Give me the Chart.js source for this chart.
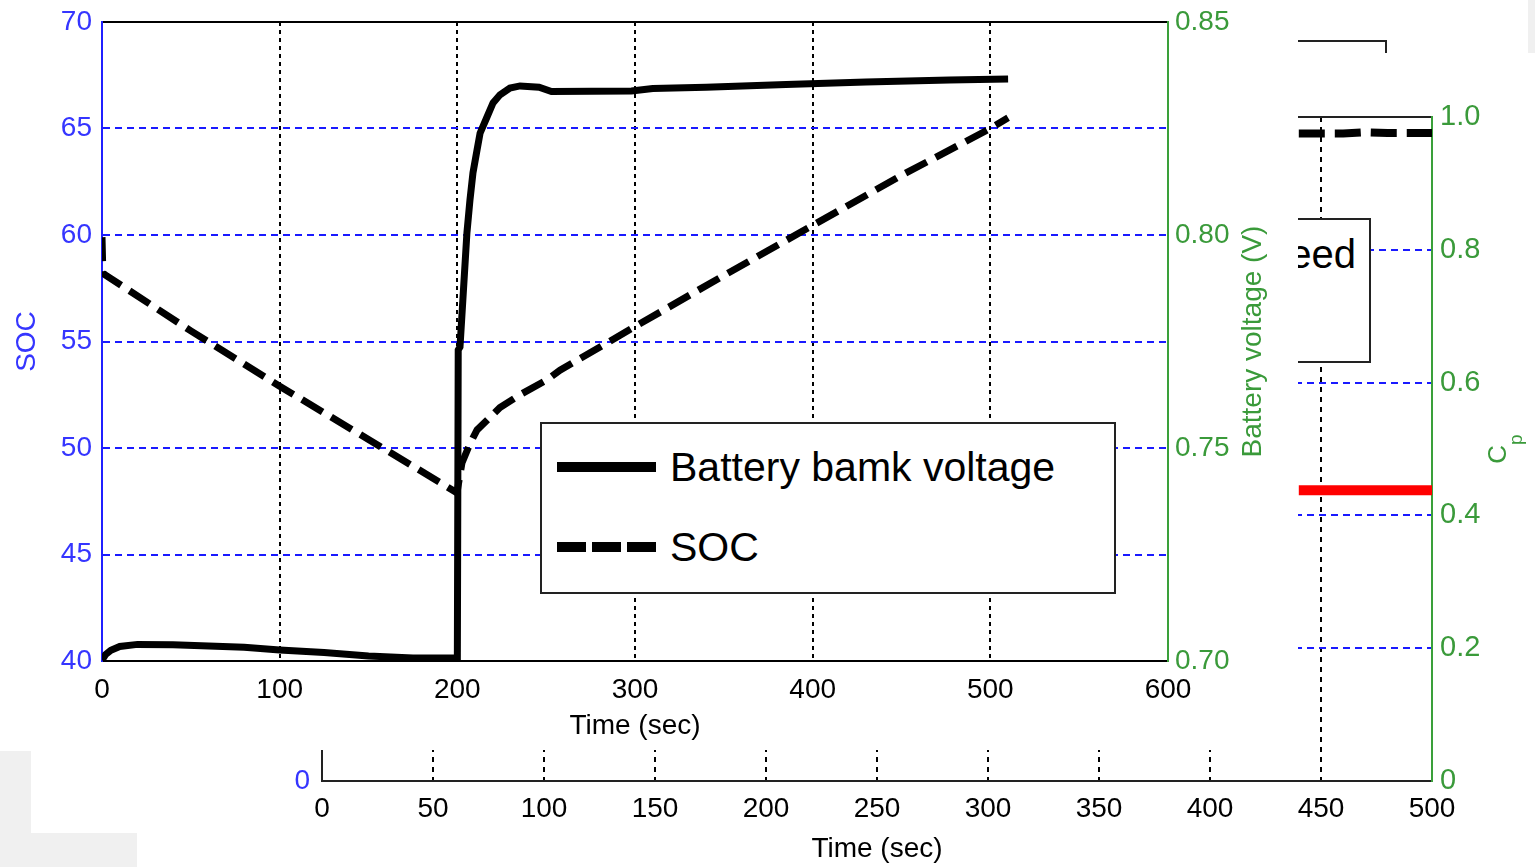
<!DOCTYPE html>
<html>
<head>
<meta charset="utf-8">
<script src="https://cdn.jsdelivr.net/npm/chart.js@4.4.1/dist/chart.umd.min.js"></script>
<style>
html,body{margin:0;padding:0;background:#fff;width:1535px;height:867px;overflow:hidden;font-family:"Liberation Sans",Arial,sans-serif;}
#bgc{position:absolute;left:0;top:0;}
#fg{position:absolute;left:0;top:0;width:1298px;height:750px;background:#fff;z-index:5;}
#fgc{position:absolute;left:0;top:0;}
.legend{position:absolute;background:#fff;border:2px solid #222;box-sizing:border-box;}
.row{position:absolute;left:0;right:0;height:80px;display:flex;align-items:center;}
.row svg{position:absolute;}
.row span{position:absolute;line-height:1;white-space:nowrap;color:#000;}
.grey{position:absolute;background:#f0f0f0;z-index:6;}
#bracket{position:absolute;left:1250px;top:40px;width:137px;height:13px;border-top:2px solid #222;border-right:2px solid #222;box-sizing:border-box;z-index:2;}
</style>
</head>
<body>
<canvas id="bgc" width="1535" height="867"></canvas>
<div id="bracket"></div>
<div id="bgLegend" class="legend" style="left:1000px;top:218px;width:371px;height:145px;z-index:2;"></div>
<div id="fg">
  <canvas id="fgc" width="1298" height="750"></canvas>
  <div id="fgLegend" class="legend" style="left:540px;top:422px;width:576px;height:172px;"></div>
</div>
<div class="grey" style="left:0;top:751px;width:31px;height:82px;"></div>
<div class="grey" style="left:0;top:833px;width:137px;height:34px;"></div>
<div class="grey" style="left:1528px;top:0;width:7px;height:53px;"></div>
<script>
// ---------------- data (foreground chart) ----------------
const voltageTime = [0,2,5,10,20,40,60,80,100,125,150,175,199.5,200,200.5,201.5,205.4,207.1,208.8,211.1,212.8,216.7,220.1,224,229.6,235.3,246,253,298,310,340,385,430,477,510];
const voltageValues = [0.7002,0.7015,0.7025,0.7034,0.7039,0.7038,0.7035,0.7032,0.7026,0.7020,0.7012,0.7007,0.7007,0.7000,0.7730,0.7737,0.8005,0.8082,0.8146,0.8200,0.8239,0.8277,0.8310,0.8329,0.8345,0.8350,0.8347,0.8337,0.8338,0.8344,0.8347,0.8353,0.8359,0.8364,0.8366];
const socTime = [0,0.5,50,100,150,199.8,202.6,207.1,211.1,216.7,224,235.3,250.5,257.8,300,350,400,450,500,510];
const socValues = [59.9,58.2,55.5,52.9,50.4,47.9,49.3,50.2,50.85,51.3,51.9,52.5,53.2,53.65,55.7,58.1,60.45,62.8,65.0,65.5];
const mainLabels = ['Battery bamk voltage','SOC'];
const mainTitles = {x:'Time (sec)', y:'SOC', y1:'Battery voltage (V)'};

// ---------------- data (background chart, visible part) ----------------
const bgTime = [440,450,460,470,480,490,500];
const bgDashedValues = [0.975,0.975,0.975,0.977,0.976,0.976,0.976];
const bgCpValues = [0.438,0.438,0.438,0.438,0.438,0.438,0.438];
const bgLabels = ['Wind speed','Cp'];
const bgTitles = {x:'Time (sec)', y1:'C', y1sub:'p'};

const FONT = '"Liberation Sans", Arial, sans-serif';
const BLUE_TXT = '#3535ff';
const BLUE_GRID = '#1a1aff';
const GREEN_TXT = '#3a9a3a';
const GREEN_LINE = '#3aa03a';
Chart.defaults.font.family = FONT;

const pts = (xs, ys) => xs.map((x,i)=>({x:x, y:ys[i]}));
const noPad = s => { s.paddingTop = 0; s.paddingBottom = 0; };

const vTitle = {
  id:'vTitle',
  afterDraw(chart, args, opts){
    (opts.items||[]).forEach(it=>{
      const s = chart.scales[it.axis];
      const ctx = chart.ctx;
      ctx.save();
      ctx.translate(s.left + it.offset, (s.top+s.bottom)/2);
      ctx.rotate(-Math.PI/2);
      ctx.fillStyle = it.color;
      ctx.textBaseline = 'middle';
      ctx.textAlign = 'left';
      ctx.font = it.size + 'px ' + FONT;
      const w1 = ctx.measureText(it.text).width;
      let w2 = 0;
      if (it.sub){ ctx.font = it.subSize + 'px ' + FONT; w2 = ctx.measureText(it.sub).width; }
      const x0 = -(w1+w2)/2;
      ctx.font = it.size + 'px ' + FONT;
      ctx.fillText(it.text, x0, 0);
      if (it.sub){ ctx.font = it.subSize + 'px ' + FONT; ctx.fillText(it.sub, x0+w1, it.subDy); }
      ctx.restore();
    });
  }
};

// ---------------- background chart ----------------
const bgChart = new Chart(document.getElementById('bgc'), {
  type:'line',
  data:{datasets:[
    {label:bgLabels[0], data:pts(bgTime,bgDashedValues), borderColor:'#000', borderWidth:8, borderDash:[26,10], pointRadius:0, yAxisID:'y1', xAxisID:'x'},
    {label:bgLabels[1], data:pts(bgTime,bgCpValues), borderColor:'#ff0000', borderWidth:10, pointRadius:0, yAxisID:'y1', xAxisID:'x'}
  ]},
  options:{
    responsive:false, animation:false, layout:{padding:0},
    plugins:{legend:{display:false}, tooltip:{enabled:false},
      vTitle:{items:[{axis:'y1', offset:67, text:bgTitles.y1, sub:bgTitles.y1sub, size:26, subSize:19, subDy:18, color:GREEN_TXT}]}},
    scales:{
      x:{type:'linear', position:'bottom', min:0, max:500,
        ticks:{stepSize:50, color:'#000', font:{size:28}, padding:11, maxRotation:0, autoSkip:false},
        grid:{color:c=>(c.tick && c.tick.value>0 && c.tick.value<500)?'#000':'rgba(0,0,0,0)', lineWidth:2, drawTicks:false},
        border:{color:'#222', width:2, dash:[5,5]},
        title:{display:true, text:bgTitles.x, color:'#000', font:{size:28}, padding:{top:0,bottom:1}},
        afterFit:s=>{s.height=86;}},
      xTop:{type:'linear', position:'top', min:0, max:500, ticks:{display:false}, grid:{display:false, drawTicks:false},
        border:{color:'#222', width:2}, afterFit:s=>{s.height=117;}},
      y:{type:'linear', position:'left', min:0, max:1,
        ticks:{stepSize:0.2, color:BLUE_TXT, font:{size:28}, padding:12, callback:v=>v===0?'0':v.toFixed(1)},
        grid:{color:c=>(c.tick && c.tick.value>0.01 && c.tick.value<0.99)?BLUE_GRID:'rgba(0,0,0,0)', lineWidth:2, drawTicks:false},
        border:{color:'#222', width:2, dash:[7,5]},
        afterFit:s=>{s.width=322; noPad(s);}},
      y1:{type:'linear', position:'right', min:0, max:1,
        ticks:{stepSize:0.2, color:GREEN_TXT, font:{size:29}, padding:8, callback:v=>Math.abs(v)<1e-9?'0':v.toFixed(1)},
        grid:{display:false, drawTicks:false}, border:{color:GREEN_LINE, width:2},
        afterFit:s=>{s.width=103; noPad(s);}}
    }
  },
  plugins:[vTitle]
});

// ---------------- foreground chart ----------------
const fgChart = new Chart(document.getElementById('fgc'), {
  type:'line',
  data:{datasets:[
    {label:mainLabels[0], data:pts(voltageTime,voltageValues), borderColor:'#000', borderWidth:7, pointRadius:0, tension:0, yAxisID:'y1', xAxisID:'x'},
    {label:mainLabels[1], data:pts(socTime,socValues), borderColor:'#000', borderWidth:7, borderDash:[24,10], pointRadius:0, tension:0, yAxisID:'y', xAxisID:'x'}
  ]},
  options:{
    responsive:false, animation:false, layout:{padding:0},
    plugins:{legend:{display:false}, tooltip:{enabled:false},
      vTitle:{items:[{axis:'y1', offset:85, text:mainTitles.y1, size:28, color:GREEN_TXT}]}},
    scales:{
      x:{type:'linear', position:'bottom', min:0, max:600,
        ticks:{stepSize:100, color:'#000', font:{size:28}, padding:12, maxRotation:0, autoSkip:false},
        grid:{color:c=>(c.tick && c.tick.value>0 && c.tick.value<600)?'#000':'rgba(0,0,0,0)', lineWidth:2, drawTicks:false},
        border:{color:'#000', width:2, dash:[4,4]},
        title:{display:true, text:mainTitles.x, color:'#000', font:{size:28}, padding:{top:0,bottom:7}},
        afterFit:s=>{s.height=89;}},
      xTop:{type:'linear', position:'top', min:0, max:600, ticks:{display:false}, grid:{display:false, drawTicks:false},
        border:{color:'#000', width:2}, afterFit:s=>{s.height=22;}},
      y:{type:'linear', position:'left', min:40, max:70,
        ticks:{stepSize:5, color:BLUE_TXT, font:{size:28}, padding:10},
        grid:{color:c=>(c.tick && c.tick.value>40 && c.tick.value<70)?BLUE_GRID:'rgba(0,0,0,0)', lineWidth:2, drawTicks:false},
        border:{color:'#2020ff', width:2, dash:[7,5]},
        title:{display:true, text:mainTitles.y, color:BLUE_TXT, font:{size:28}, padding:{top:10}},
        afterFit:s=>{s.width=102; noPad(s);}},
      y1:{type:'linear', position:'right', min:0.70, max:0.85,
        ticks:{stepSize:0.05, color:GREEN_TXT, font:{size:28}, padding:7, callback:v=>v.toFixed(2)},
        grid:{display:false, drawTicks:false}, border:{color:GREEN_LINE, width:2},
        afterFit:s=>{s.width=130; noPad(s);}}
    }
  },
  plugins:[vTitle]
});

// ---------------- legends built from the datasets ----------------
function sampleSvg(ds, w){
  const dash = ds.borderDash ? 'stroke-dasharray="29 6"' : '';
  return '<svg width="'+w+'" height="14" style="left:15px"><line x1="0" y1="7" x2="'+w+'" y2="7" stroke="'+ds.borderColor+'" stroke-width="10" '+dash+'/></svg>';
}
(function(){
  const el = document.getElementById('fgLegend');
  fgChart.data.datasets.forEach((ds,i)=>{
    const r = document.createElement('div');
    r.className = 'row';
    r.style.top = (3 + i*80) + 'px';
    r.innerHTML = sampleSvg(ds, 99) + '<span style="left:128px;font-size:41px;">'+ds.label+'</span>';
    el.appendChild(r);
  });
})();
(function(){
  const el = document.getElementById('bgLegend');
  const c = document.createElement('canvas').getContext('2d');
  c.font = '40px ' + FONT;
  const w = c.measureText(bgChart.data.datasets[0].label).width;
  const textLeft = 354 - w; // inner box coords, first label ends near right edge
  bgChart.data.datasets.forEach((ds,i)=>{
    const r = document.createElement('div');
    r.className = 'row';
    r.style.top = (-6 + i*72) + 'px';
    r.innerHTML = '<span style="left:'+textLeft+'px;font-size:40px;">'+ds.label+'</span>';
    el.appendChild(r);
  });
})();
</script>
</body>
</html>
